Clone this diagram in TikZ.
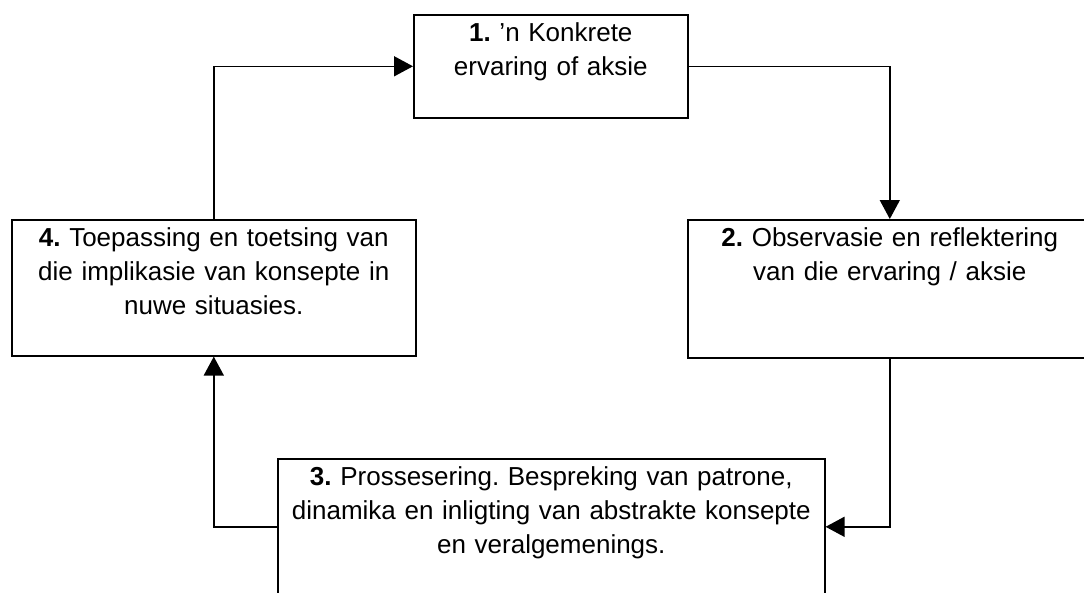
\documentclass[tikz,border=0pt]{standalone}
\usepackage{fontspec}
\setmainfont{Liberation Sans}
\usetikzlibrary{arrows.meta}
\frenchspacing
\tikzset{
  stage/.style = {draw, line width=1.6pt, anchor=north west, inner sep=0pt,
    align=center, text height=27pt, font=\fontsize{26}{34}\selectfont},
  flow/.style = {line width=1.6pt, -{Triangle[length=19pt, width=20pt]}}
}
\begin{document}
\begin{tikzpicture}[x=1pt, y=-1pt]
  \useasboundingbox (0,0) rectangle (1084,592);
  \clip (0,0) rectangle (1084,592);
  \coordinate (S1) at (413,14);
  \coordinate (S2) at (687,219);
  \coordinate (S3) at (277,458);
  \coordinate (S4) at (11,219);
  \node[stage, text width=274pt, text depth=76pt] (one) at (S1)
  {\textbf{1.} 'n Konkrete\\ervaring of aksie};
  \node[stage, text width=404pt, text depth=111pt] (two) at (S2)
  {\textbf{2.} Observasie en reflektering\\van die ervaring / aksie};
  \node[stage, text width=547pt, text depth=109pt] (three) at (S3)
  {\textbf{3.} Prossesering. Bespreking van patrone,\\dinamika en inligting van abstrakte konsepte\\en veralgemenings.};
  \node[stage, text width=404pt, text depth=109pt] (four) at (S4)
  {\textbf{4.} Toepassing en toetsing van\\die implikasie van konsepte in\\nuwe situasies.};
  \draw[flow] (four.north) |- (one.west);
  \draw[flow] (one.east) -| (two.north);
  \draw[flow] (two.south) |- (three.east);
  \draw[flow] (three.west) -| (four.south);
\end{tikzpicture}
\end{document}
